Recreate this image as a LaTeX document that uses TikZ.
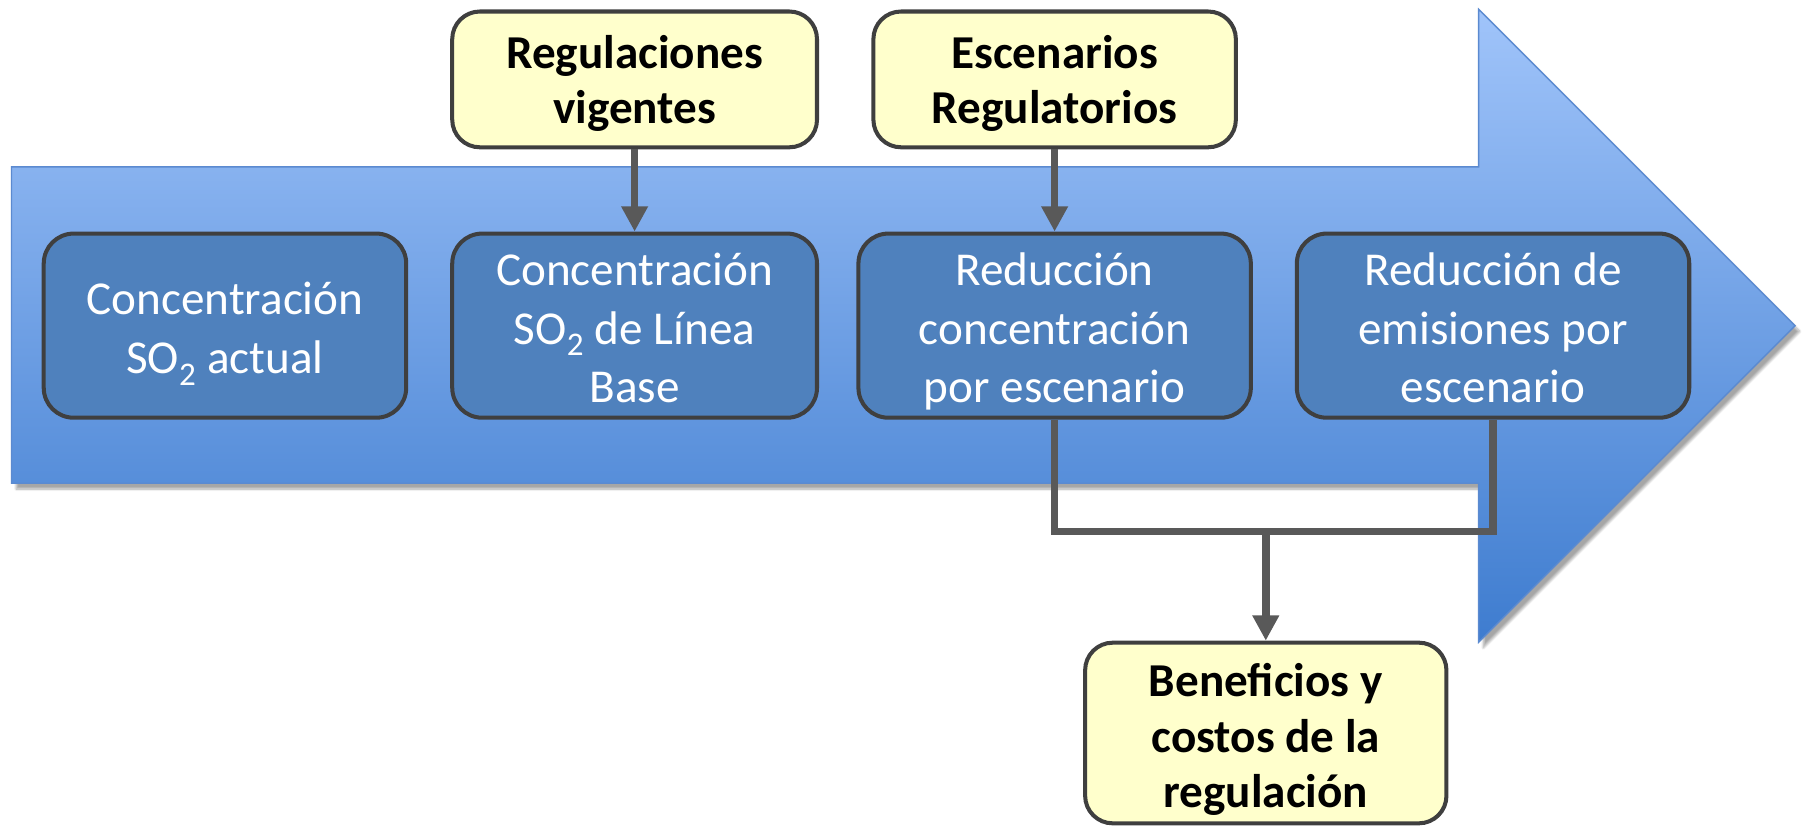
\documentclass[tikz,border=0pt]{standalone}
\usepackage{fontspec}
\setmainfont{Carlito}
\usetikzlibrary{arrows.meta,shadows.blur}
\definecolor{boxblue}{HTML}{4F81BD}
\definecolor{boxline}{HTML}{3F3F3F}
\definecolor{yel}{HTML}{FFFFCC}
\definecolor{conn}{HTML}{595959}
\definecolor{arrtop}{HTML}{A0C4FA}
\definecolor{arrmid}{HTML}{78A6EC}
\definecolor{arrbot}{HTML}{3E7CCF}
\definecolor{arredge}{HTML}{5B8AD0}
\newcommand\boxtext[2]{\raisebox{-#1}[\height][\depth]{\begin{tabular}{@{}c@{}}#2\end{tabular}}}
\tikzset{
  stage/.style={draw=boxline, line width=3.5pt, fill=boxblue, rounded corners=26pt,
    text=white, inner sep=0pt, minimum height=160pt,
    font=\fontsize{41}{51}\selectfont},
  input/.style={draw=boxline, line width=3.5pt, fill=yel, rounded corners=24pt,
    text=black, inner sep=0pt,
    font=\fontsize{41}{48}\selectfont\bfseries},
  link/.style={draw=conn, line width=6.5pt},
  linkarrow/.style={link, -{Triangle[width=22pt,length=22pt]}},
}
\begin{document}
\begin{tikzpicture}[x=1pt,y=-1pt]
\useasboundingbox (0,0) rectangle (1568.6,717);
% big arrow
\path[blur shadow={shadow xshift=4pt, shadow yshift=-5pt, shadow blur steps=8, shadow opacity=35},
  draw=arredge, line width=1.2pt, top color=arrtop, middle color=arrmid, bottom color=arrbot]
  (10,145) -- (1285,145) -- (1285,8) -- (1560,283) -- (1285,558) -- (1285,420) -- (10,420) -- cycle;
% stages
\node[stage, minimum width=315pt] (b1) at (195.5,283) {\boxtext{6pt}{Concentración\\SO\textsubscript{2} actual}};
\node[stage, minimum width=317pt] (b2) at (551.5,283) {\boxtext{6pt}{Concentración\\SO\textsubscript{2} de Línea\\Base}};
\node[stage, minimum width=341pt] (b3) at (916.5,283) {\boxtext{6pt}{Reducción\\concentración\\por escenario}};
\node[stage, minimum width=341pt] (b4) at (1297.5,283) {\boxtext{6pt}{Reducción de\\emisiones por\\escenario}};
% inputs
\node[input, minimum width=317pt, minimum height=118pt] (y1) at (551.5,69) {\boxtext{5pt}{Regulaciones\\vigentes}};
\node[input, minimum width=315pt, minimum height=118pt] (y2) at (916.5,69) {\boxtext{5pt}{Escenarios\\Regulatorios}};
\node[input, minimum width=314pt, minimum height=157pt] (y3) at (1100,637) {\boxtext{7pt}{Beneficios y\\costos de la\\regulación}};
% connectors
\coordinate (j) at (1100,462);
\draw[linkarrow] (y1.south) -- (b2.north);
\draw[linkarrow] (y2.south) -- (b3.north);
\draw[link] (b3.south) |- (j) -| (b4.south);
\draw[linkarrow] (j) -- (y3.north);
\end{tikzpicture}
\end{document}
